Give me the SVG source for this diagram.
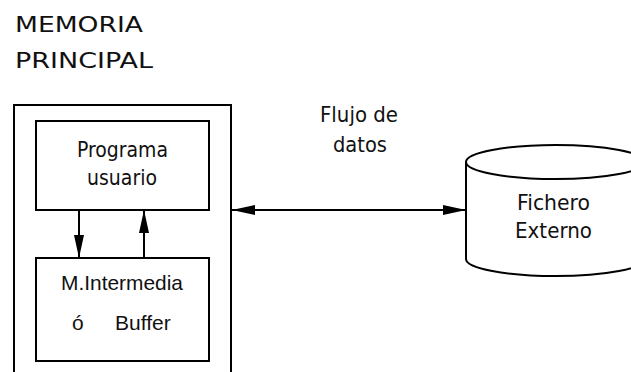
<svg xmlns="http://www.w3.org/2000/svg" width="631" height="372" viewBox="0 0 631 372">
  <style>
    .box { fill: #ffffff; stroke: #000000; stroke-width: 2; }
    .line { fill: none; stroke: #000000; stroke-width: 2; }
    .hand { font-family: "DejaVu Sans", "Noto Sans", sans-serif; font-size: 22px; fill: #111111; }
    .plain { font-family: "Liberation Sans", Arial, sans-serif; font-size: 21px; fill: #111111; }
  </style>
  <defs>
    <marker id="head" viewBox="0 0 23 10" refX="23" refY="5" markerWidth="23" markerHeight="10" markerUnits="userSpaceOnUse" orient="auto-start-reverse">
      <path d="M0,0 L23,5 L0,10 Z" fill="#000000"/>
    </marker>
  </defs>

  <rect width="631" height="372" fill="#ffffff"/>

  <!-- title -->
  <g id="title">
    <text class="hand" x="15" y="32" font-size="24" textLength="128" lengthAdjust="spacingAndGlyphs">MEMORIA</text>
    <text class="hand" x="15" y="68" font-size="24" textLength="138" lengthAdjust="spacingAndGlyphs">PRINCIPAL</text>
  </g>

  <!-- main memory frame -->
  <g id="memoria">
    <rect class="box" x="14" y="105" width="217" height="280"/>
  </g>

  <!-- user program -->
  <g id="programa">
    <rect class="box" x="36" y="121" width="173" height="89"/>
    <text class="hand" x="77" y="157" textLength="91" lengthAdjust="spacingAndGlyphs">Programa</text>
    <text class="hand" x="87" y="185" textLength="70" lengthAdjust="spacingAndGlyphs">usuario</text>
  </g>

  <!-- buffer -->
  <g id="buffer">
    <rect class="box" x="36" y="258" width="173" height="103"/>
    <text class="plain" x="61" y="290" textLength="122" lengthAdjust="spacingAndGlyphs">M.Intermedia</text>
    <text class="plain" y="330"><tspan x="72">ó</tspan><tspan x="115">Buffer</tspan></text>
  </g>

  <!-- external file -->
  <g id="fichero">
    <path class="box" d="M466,162 L466,259 A89.6,17 0 0 0 645.2,259 L645.2,162"/>
    <ellipse class="box" cx="555.6" cy="162" rx="89.6" ry="17"/>
    <text class="hand" x="517" y="210" textLength="73" lengthAdjust="spacingAndGlyphs">Fichero</text>
    <text class="hand" x="515" y="238" textLength="77" lengthAdjust="spacingAndGlyphs">Externo</text>
  </g>

  <!-- connectors -->
  <g id="connectors">
    <line class="line" x1="79" y1="210" x2="79" y2="258" marker-end="url(#head)"/>
    <line class="line" x1="144" y1="258" x2="144" y2="210" marker-end="url(#head)"/>
    <line class="line" x1="232" y1="210" x2="466" y2="210" marker-start="url(#head)" marker-end="url(#head)"/>
    <text class="hand" x="320" y="122" textLength="78" lengthAdjust="spacingAndGlyphs">Flujo de</text>
    <text class="hand" x="333" y="152" textLength="54" lengthAdjust="spacingAndGlyphs">datos</text>
  </g>
</svg>
